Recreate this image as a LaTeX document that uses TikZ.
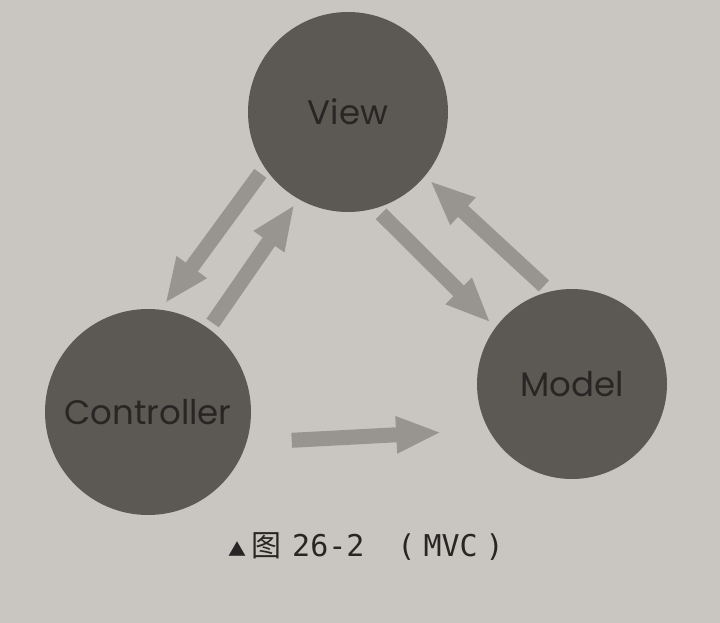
\documentclass[tikz,border=0pt]{standalone}
\usepackage{fontspec}
\setmainfont{Poppins}
\newfontfamily\cjk{Noto Sans CJK SC}
\newfontfamily\capmono{DejaVu Sans Mono}
\usetikzlibrary{arrows.meta}
\definecolor{paper}{RGB}{201,197,193}
\definecolor{disc}{RGB}{92,88,84}
\definecolor{flowgray}{RGB}{152,149,145}
\definecolor{ink}{RGB}{40,38,36}
\begin{document}
\begin{tikzpicture}[x=1pt, y=-1pt,
  part/.style={circle, fill=disc, text=ink, inner sep=0pt, outer sep=7pt, font=\fontsize{34}{38}\selectfont},
  flow/.style={draw=flowgray, line width=15pt, -{Triangle[length=45pt, width=34pt]}}]
  \fill[paper] (0, 0) rectangle (720, 623);
  \useasboundingbox (0, 0) rectangle (720, 623);
  \node[part, minimum size=200pt] (View) at (348, 112) {View};
  \node[part, minimum size=206pt] (Controller) at (148, 412) {Controller};
  \node[part, minimum size=190pt] (Model) at (572, 384) {Model};
  \node[text=ink, font=\fontsize{30}{34}\selectfont] (Caption) at (366, 547)
    {{\cjk\fontsize{18}{20}\selectfont ▲}\hspace{5pt}{\cjk 图}\hspace{11pt}{\capmono 26-2}\hspace{33pt}{\capmono(\hspace{8pt}MVC\hspace{8pt})}};
  \draw[flow] (View.215) -- (Controller.81);
  \draw[flow] (Controller.54) -- (View.240);
  \draw[flow] (View.288) -- (Model.143);
  \draw[flow] (Model.106) -- (View.320);
  \draw[flow, shorten <=38pt, shorten >=40pt] (Controller.-16) -- (Model.207);
\end{tikzpicture}
\end{document}
